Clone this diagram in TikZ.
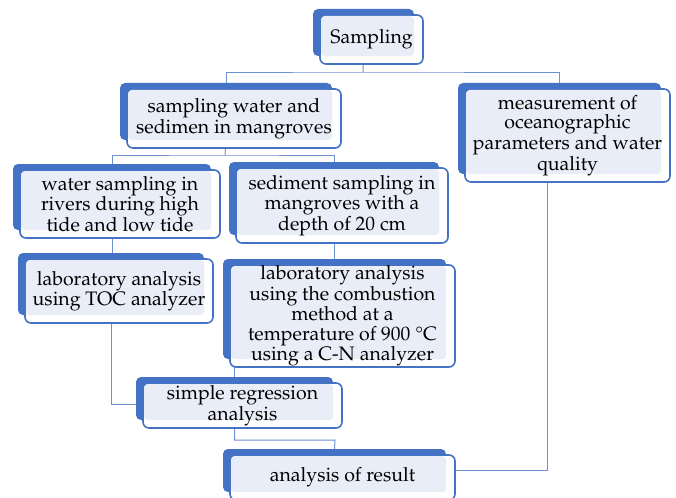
\documentclass[tikz,border=0pt]{standalone}
\usepackage[T1]{fontenc}
\usepackage{mathpazo}
\usepackage{xcolor}
\usetikzlibrary{backgrounds}

\definecolor{boxblue}{RGB}{68,114,196}
\definecolor{boxlight}{RGB}{233,237,247}
\definecolor{linkblue}{RGB}{110,145,210}

% front box given by its corners (pixels, y down); the named node is the dark back box
\newcommand{\flowbox}[6]{%
  \node[backbox, minimum width={(#4-#2-2)*1pt}, minimum height={(#5-#3-2)*1pt}]
    (#1) at ({(#2+#4)/2-8},{(#3+#5)/2-7}) {};
  \draw[frontbox] (#2,#3) rectangle (#4,#5);
  \fill[boxlight, rounded corners=4pt] ({#2+1},{#3+1}) rectangle (#1.south east);
  \node[boxtext] (#1-text) at ({(#2+#4)/2},{(#3+#5)/2}) {#6};
}

\begin{document}
\begin{tikzpicture}[
  x=1pt, y=-1pt,
  backbox/.style = {fill=boxblue, rounded corners=5pt, inner sep=0pt},
  frontbox/.style = {draw=boxblue, fill=white, line width=1.6pt, rounded corners=6pt},
  boxtext/.style = {align=center, inner sep=0pt, font=\fontsize{19.5}{19.5}\selectfont},
  link/.style = {draw=linkblue, line width=1pt}
]
\useasboundingbox (0,0) rectangle (676,497);

\flowbox{samp}{320}{15}{423}{64}{Sampling}
\flowbox{sampwat}{127}{89}{341}{148}{sampling water and\\sedimen in mangroves}
\flowbox{measure}{465}{89}{670}{182}{measurement of\\oceanographic\\parameters and water\\quality}
\flowbox{watsamp}{20}{170}{220}{238}{water sampling in\\rivers during high\\tide and low tide}
\flowbox{sedsamp}{236}{168}{448}{243}{sediment sampling in\\mangroves with a\\depth of 20 cm}
\flowbox{labtoc}{25}{259}{213}{323}{laboratory analysis\\using TOC analyzer}
\flowbox{labcn}{230}{265}{455}{367}{laboratory analysis\\using the combustion\\method at a\\temperature of 900 \textdegree C\\using a C-N analyzer}
\flowbox{regress}{143}{383}{342}{428}{simple regression\\analysis}
\flowbox{result}{230}{455}{455}{500}{analysis of result}

\coordinate (bus1) at (363,73);
\coordinate (bus2) at (225,155);
\coordinate (bus3) at (335,440);

\begin{scope}[on background layer]
  \draw[link] (samp.south) -- (bus1);
  \draw[link] (sampwat.north) |- (bus1) -| (measure.north);
  \draw[link] (sampwat.south) -- (bus2);
  \draw[link] (watsamp.north) |- (bus2) -| (sedsamp.north);
  \draw[link] (watsamp.south) -- (watsamp.south |- labtoc.north);
  \draw[link] (sedsamp.south) -- (sedsamp.south |- labcn.north);
  \draw[link] (labtoc.south) |- ([yshift=-6pt]regress.west);
  \draw[link] (regress.north) -- (regress.north |- labcn.south);
  \draw[link] (regress.south) |- (bus3) -- (result.north);
  \draw[link] ([xshift=-12pt]measure.south) |- (result.east);
\end{scope}
\end{tikzpicture}
\end{document}
